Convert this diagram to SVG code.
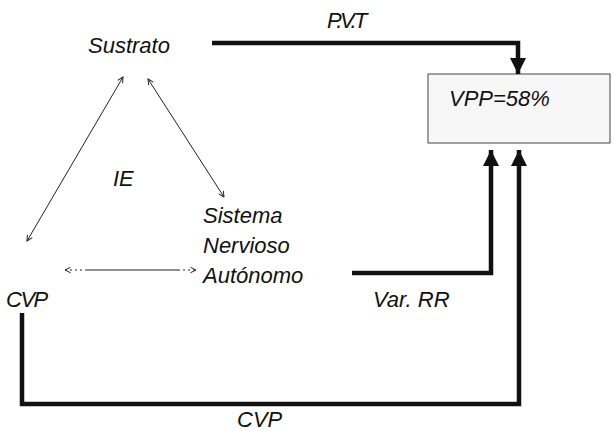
<svg xmlns="http://www.w3.org/2000/svg" width="614" height="431" viewBox="0 0 614 431">
<style>
text{font-family:"Liberation Sans",Arial,sans-serif;font-style:italic;font-size:22px;fill:#111}
.thick{fill:none;stroke:#111;stroke-width:4.5;stroke-linejoin:miter}
.thin{fill:none;stroke:#222;stroke-width:1}
</style>
<defs>
<marker id="big" viewBox="0 0 10 10" refX="10" refY="5" markerUnits="userSpaceOnUse" markerWidth="16" markerHeight="19" orient="auto">
<path d="M0,0 L10,5 L0,10 Z" fill="#111"/>
</marker>
<marker id="small" viewBox="0 0 10 10" refX="9" refY="5" markerUnits="userSpaceOnUse" markerWidth="7" markerHeight="7" orient="auto-start-reverse">
<path d="M1,1 L9,5 L1,9" fill="none" stroke="#222" stroke-width="1.4"/>
</marker>
</defs>
<rect width="614" height="431" fill="#fff"/>
<g id="vpp">
<rect x="428" y="74" width="182" height="69" fill="#f7f7f7" stroke="#444" stroke-width="1"/>
<text x="449" y="106">VPP=58%</text>
</g>
<g id="sustrato"><text x="88" y="53">Sustrato</text></g>
<g id="sna">
<text x="203" y="223">Sistema</text>
<text x="203" y="253">Nervioso</text>
<text x="203" y="283">Autónomo</text>
</g>
<g id="cvp"><text x="6" y="307" letter-spacing="-1.5">CVP</text></g>
<g id="ie"><text x="113" y="186">IE</text></g>
<g id="connectors">
<polyline class="thick" points="212,43 518,43 518,74" marker-end="url(#big)"/>
<polyline class="thick" points="352,273 491,273 491,150" marker-end="url(#big)"/>
<polyline class="thick" points="22,313 22,404 519,404 519,150" marker-end="url(#big)"/>
<line class="thin" x1="123" y1="77" x2="27" y2="241" marker-start="url(#small)" marker-end="url(#small)"/>
<line class="thin" x1="148" y1="79" x2="224" y2="197" marker-start="url(#small)" marker-end="url(#small)"/>
<line class="thin" x1="65" y1="270" x2="196" y2="270" stroke-dasharray="2 3 2 3 2 3 2 3 95 3 2 3 2 3" marker-start="url(#small)" marker-end="url(#small)"/>
<text x="327" y="28" letter-spacing="-2.5">P.V.T</text>
<text x="373" y="307">Var. RR</text>
<text x="237" y="427">CVP</text>
</g>
</svg>
